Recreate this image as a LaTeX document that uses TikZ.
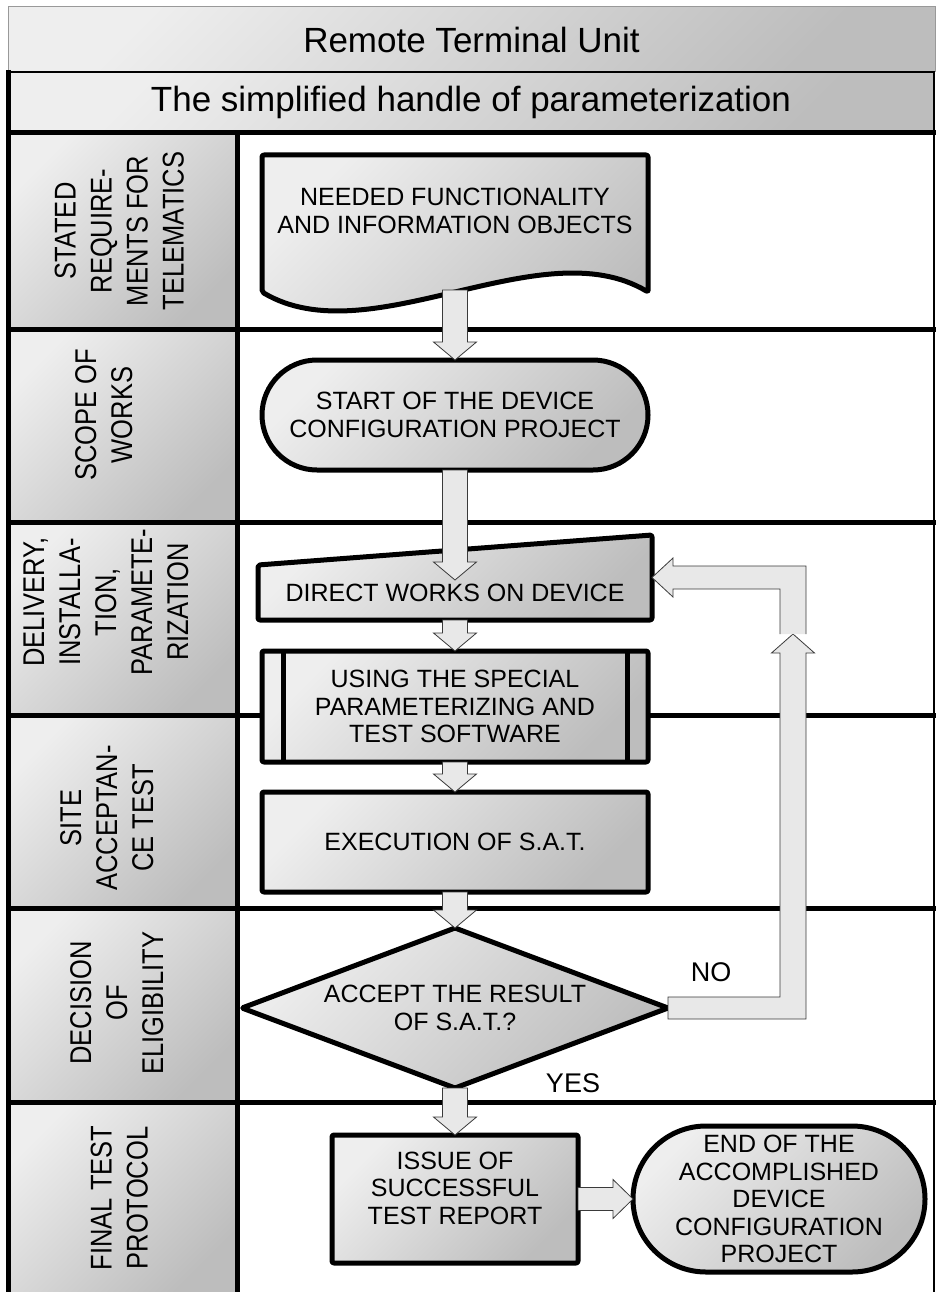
\documentclass[tikz,border=0pt]{standalone}
\usepackage{fontspec}
\setmainfont{Liberation Sans}
\usepackage{graphicx}
\usetikzlibrary{calc,shapes.geometric}

\definecolor{shadeA}{HTML}{EEEEEE}
\definecolor{shadeB}{HTML}{BDBDBD}
\definecolor{arrowfill}{HTML}{E8E8E8}
\definecolor{arrowline}{HTML}{3A3A3A}

% rotated lane captions, slightly condensed along the reading direction
\newcommand{\lanelines}[1]{\scalebox{0.85}[1]{\begin{tabular}{@{}c@{}}#1\end{tabular}}}

% wide block arrow pointing down: #1 tail point, #2 tip point
\newcommand{\flowdown}[2]{%
  \path[blk] let \p1=(#1), \p2=(#2) in
    (\x2-12.5pt,\y1) -- (\x2+12.5pt,\y1) -- (\x2+12.5pt,\y2+18pt) -- (\x2+21.5pt,\y2+18pt)
    -- (\x2,\y2) -- (\x2-21.5pt,\y2+18pt) -- (\x2-12.5pt,\y2+18pt) -- cycle;}

% wide block arrow pointing right: #1 tail point, #2 tip point
\newcommand{\flowright}[2]{%
  \path[blk] let \p1=(#1), \p2=(#2) in
    (\x1,\y2+11.5pt) -- (\x2-20pt,\y2+11.5pt) -- (\x2-20pt,\y2+19.5pt) -- (\x2,\y2)
    -- (\x2-20pt,\y2-19.5pt) -- (\x2-20pt,\y2-11.5pt) -- (\x1,\y2-11.5pt) -- cycle;}

\begin{document}
\begin{tikzpicture}[x=1pt,y=-1pt,
  grad/.style={top color=shadeA, bottom color=shadeB, shading angle=45},
  shp/.style={grad, draw=black, line width=5pt, line join=round, rounded corners=2pt,
              inner sep=0pt, outer sep=0pt},
  boxtext/.style={font=\fontsize{25}{27.5}\selectfont, align=center, text=black},
  lanetxt/.style={font=\fontsize{30}{36}\selectfont, rotate=90, inner sep=0pt},
  blk/.style={fill=arrowfill, draw=arrowline, line width=0.8pt, line join=miter},
  lane/.style={draw=black, line width=5pt},
  answer/.style={font=\fontsize{27}{30}\selectfont, inner sep=0pt},
]
\useasboundingbox (0,0) rectangle (936,1292);

% ---------- headers ----------
\node[grad, draw=gray!80, line width=1pt, minimum width=927pt, minimum height=65pt,
      inner sep=0pt, font=\fontsize{35}{40}\selectfont] (title) at (471.5,39.5)
      {Remote Terminal Unit};
\node[grad, draw=black, line width=1.2pt, minimum width=926pt, minimum height=61pt,
      inner sep=0pt, font=\fontsize{35}{40}\selectfont] (subtitle) at (471,102.5)
      {The simplified handle of parameterization};

% ---------- lane caption cells ----------
\path[grad] (8,133) rectangle (237,329);
\path[grad] (8,329) rectangle (237,522);
\path[grad] (8,522) rectangle (237,715);
\path[grad] (8,715) rectangle (237,908);
\path[grad] (8,908) rectangle (237,1102);
\path[grad] (8,1102) rectangle (237,1292);

\node[lanetxt] (lane1) at (122.5,231) {\lanelines{STATED\\REQUIRE-\\MENTS FOR\\TELEMATICS}};
\node[lanetxt] (lane2) at (107,415) {\lanelines{SCOPE OF\\WORKS}};
\node[lanetxt] (lane3) at (109,602) {\lanelines{DELIVERY,\\INSTALLA-\\TION,\\PARAMETE-\\RIZATION}};
\node[lanetxt] (lane4) at (110,818) {\lanelines{SITE\\ACCEPTAN-\\CE TEST}};
\node[lanetxt] (lane5) at (120,1003) {\lanelines{DECISION\\OF\\ELIGIBILITY}};
\node[lanetxt] (lane6) at (122.5,1198) {\lanelines{FINAL TEST\\PROTOCOL}};

% ---------- lane grid ----------
\foreach \yy in {133,329,522,715,908,1102}
  \draw[lane] (8,\yy) -- (936,\yy);
\draw[lane] (8.5,70) -- (8.5,1295);
\draw[lane] (237.5,133) -- (237.5,1295);
\draw[black, line width=1.2pt] (934,133) -- (934,1295);

% ---------- flow shapes ----------
% document with wavy lower edge
\path[shp] (648,292) -- (648,155) -- (262,155) -- (262,292)
  .. controls (370,356) and (540,228) .. (648,292) -- cycle;
\node[boxtext] (doc) at (455,211) {NEEDED FUNCTIONALITY\\AND INFORMATION OBJECTS};
\coordinate (docout) at (455,290);

% start terminator
\node[shp, rounded corners=55pt, minimum width=386pt, minimum height=110pt, boxtext]
  (term) at (455,415) {START OF THE DEVICE\\CONFIGURATION PROJECT};

% manual operation with sloped top
\path[shp] (258,620) -- (258,565) -- (652,535) -- (652,620) -- cycle;
\node[boxtext, minimum width=394pt, minimum height=55pt, inner sep=0pt, outer sep=0pt]
  (dw) at (455,592.5) {DIRECT WORKS ON DEVICE};

% predefined process
\node[shp, minimum width=386pt, minimum height=111pt, boxtext]
  (sw) at (455,706.5) {USING THE SPECIAL\\PARAMETERIZING AND\\TEST SOFTWARE};
\draw[black, line width=5pt] ([xshift=21pt]sw.north west) -- ([xshift=21pt]sw.south west);
\draw[black, line width=5pt] ([xshift=-21pt]sw.north east) -- ([xshift=-21pt]sw.south east);

% process
\node[shp, minimum width=386pt, minimum height=100pt, boxtext]
  (sat) at (455,842) {EXECUTION OF S.A.T.};

% decision
\node[shp, diamond, aspect=2.66, minimum width=426pt, minimum height=160pt, boxtext,
      rounded corners=1pt] (dec) at (455,1008) {ACCEPT THE RESULT\\OF S.A.T.?};

% report
\node[shp, minimum width=246pt, minimum height=128pt] (iss) at (455,1199) {};
\node[boxtext] (isstext) at ([yshift=11pt]iss.center) {ISSUE OF\\SUCCESSFUL\\TEST REPORT};

% end terminator
\node[shp, rounded corners=73pt, minimum width=292pt, minimum height=146pt, boxtext]
  (fin) at (779,1199) {END OF THE\\ACCOMPLISHED\\DEVICE\\CONFIGURATION\\PROJECT};

% answers
\node[answer] (no) at (711,972) {NO};
\node[answer] (yes) at (573,1083) {YES};

% ---------- connectors ----------
\flowdown{docout}{term.north}
\flowdown{term.south}{$(dw.north)+(0,15)$}
\flowdown{dw.south}{sw.north}
\flowdown{sw.south}{sat.north}
\flowdown{sat.south}{dec.north}
\flowdown{dec.south}{iss.north}
\flowright{iss.east}{fin.west}

% return path of the negative answer
\coordinate (loop) at (793,634);
\path[blk] let \p1=(dec.east), \p2=(loop) in
  (\x1,\y1+11pt) -- (\x2-13pt,\y1+11pt) -- (\x2-13pt,\y2-19pt) -- (\x2-21.5pt,\y2-19pt)
  -- (\x2,\y2) -- (\x2+21.5pt,\y2-19pt) -- (\x2+13pt,\y2-19pt) -- (\x2+13pt,\y1-11pt)
  -- (\x1,\y1-11pt) -- cycle;
\path[blk] let \p1=(loop), \p2=($(dw.east)+(0,-15)$) in
  (\x1-13pt,\y1) -- (\x1-13pt,\y2-11.5pt) -- (\x2+21pt,\y2-11.5pt) -- (\x2+21pt,\y2-19.5pt)
  -- (\x2,\y2) -- (\x2+21pt,\y2+19.5pt) -- (\x2+21pt,\y2+11.5pt) -- (\x1+13pt,\y2+11.5pt)
  -- (\x1+13pt,\y1);
\end{tikzpicture}
\end{document}
